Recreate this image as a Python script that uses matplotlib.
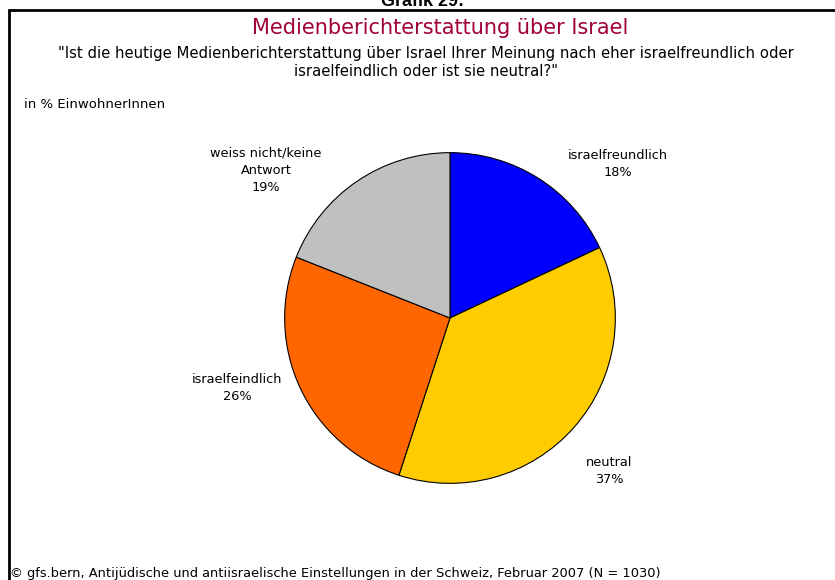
import matplotlib
matplotlib.use("Agg")
import matplotlib.pyplot as plt
from matplotlib.patches import Rectangle

categories = ["israelfreundlich", "neutral", "israelfeindlich", "weiss nicht/keine\nAntwort"]
values = [18, 37, 26, 19]
colors = ["#0000FF", "#FFCC00", "#FF6600", "#C0C0C0"]

W, H = 835, 580
fig = plt.figure(figsize=(W / 100, H / 100), dpi=100)
plt.rcParams["font.family"] = "DejaVu Sans"


def px(x, y):
    return x / W, 1 - y / H


# frame, open to the right and bottom edge like the cropped original
fig.add_artist(Rectangle(px(9, 600), (W + 20) / W, (600 - 10) / H, transform=fig.transFigure,
                         fill=False, edgecolor="black", linewidth=2))

fig.text(*px(423, 6), "Grafik 29:", ha="center", va="baseline", fontsize=13,
         fontweight="bold", family="Liberation Sans")
fig.text(*px(440, 34), "Medienberichterstattung über Israel", ha="center", va="baseline",
         fontsize=15, color="#A0003C")
fig.text(*px(426, 58), '"Ist die heutige Medienberichterstattung über Israel Ihrer Meinung nach eher israelfreundlich oder',
         ha="center", va="baseline", fontsize=10.7)
fig.text(*px(426, 76), 'israelfeindlich oder ist sie neutral?"', ha="center", va="baseline", fontsize=10.7)
fig.text(*px(24, 104), "in % EinwohnerInnen", ha="left", va="center", fontsize=9.5)
fig.text(*px(10, 573), "© gfs.bern, Antijüdische und antiisraelische Einstellungen in der Schweiz, Februar 2007 (N = 1030)",
         ha="left", va="center", fontsize=9.4)

cx, cy, r = 450, 318, 167
ax = fig.add_axes([(cx - r) / W, (H - cy - r) / H, 2 * r / W, 2 * r / H])
ax.pie(values, colors=colors, startangle=90, counterclock=False, radius=1,
       wedgeprops=dict(edgecolor="black", linewidth=0.8))
ax.set_xlim(-1.01, 1.01)
ax.set_ylim(-1.01, 1.01)
ax.set_aspect("equal")
ax.axis("off")

label_pos = [(618, 164), (609, 471), (237, 388), (266, 170)]
for name, v, (lx, ly) in zip(categories, values, label_pos):
    fig.text(*px(lx, ly), f"{name}\n{v}%", ha="center", va="center", fontsize=9.3,
             linespacing=1.45)

fig.savefig("out.png", dpi=100)
